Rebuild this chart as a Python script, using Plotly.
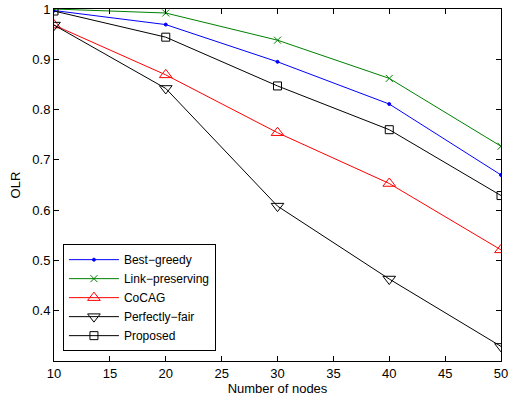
import plotly.graph_objects as go

nodes = [10, 20, 30, 40, 50]
best_greedy = [0.997, 0.969, 0.895, 0.811, 0.670]
link_preserving = [1.0, 0.992, 0.938, 0.862, 0.727]
cocag = [0.968, 0.869, 0.754, 0.653, 0.521]
perfectly_fair = [0.968, 0.842, 0.608, 0.463, 0.329]
proposed = [0.996, 0.944, 0.847, 0.760, 0.629]

y_ticks = [0.4, 0.5, 0.6, 0.7, 0.8, 0.9, 1.0]
y_tick_text = ["0.4", "0.5", "0.6", "0.7", "0.8", "0.9", "1"]
x_ticks = [10, 15, 20, 25, 30, 35, 40, 45, 50]

series = [
    ("Best\u2212greedy", best_greedy, "#0000FF", "circle", 3),
    ("Link\u2212preserving", link_preserving, "#008000", "x-thin-open", 7),
    ("CoCAG", cocag, "#FF0000", "triangle-up-open", 11),
    ("Perfectly\u2212fair", perfectly_fair, "#000000", "triangle-down-open", 11),
    ("Proposed", proposed, "#000000", "square-open", 8),
]

fig = go.Figure()
for name, ys, color, sym, size in series:
    fig.add_trace(go.Scatter(
        x=nodes, y=ys, name=name, mode="lines+markers",
        line=dict(color=color, width=1),
        marker=dict(symbol=sym, size=size, color=color, line=dict(color=color, width=1)),
    ))

fam = "Liberation Sans, Arial, sans-serif"
fig.update_layout(
    width=509, height=405,
    margin=dict(l=54, r=8, t=9, b=44),
    paper_bgcolor="white", plot_bgcolor="white",
    font=dict(family=fam, size=13, color="black"),
    showlegend=True,
    legend=dict(
        x=0.02, y=0.028, xanchor="left", yanchor="bottom",
        bgcolor="white", bordercolor="black", borderwidth=1,
        font=dict(family=fam, size=12, color="black"),
        tracegroupgap=0, itemwidth=50,
    ),
    xaxis=dict(
        range=[10, 50], tickvals=x_ticks, ticks="inside", ticklen=5, tickcolor="black",
        showline=True, linecolor="black", linewidth=1, mirror="ticks",
        showgrid=False, zeroline=False, automargin=False,
        title=dict(text="Number of nodes", font=dict(size=13), standoff=4),
    ),
    yaxis=dict(
        range=[0.3, 1.0], tickvals=y_ticks, ticktext=y_tick_text, ticks="inside",
        ticklen=5, tickcolor="black",
        showline=True, linecolor="black", linewidth=1, mirror="ticks",
        showgrid=False, zeroline=False, automargin=False,
        title=dict(text="OLR", font=dict(size=13), standoff=8),
    ),
)
fig.write_html("out.html")
